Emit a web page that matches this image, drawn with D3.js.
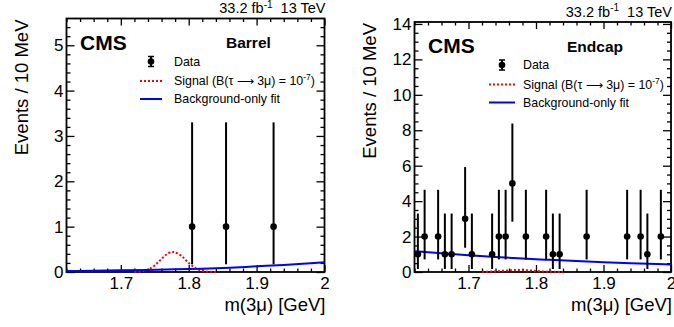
<!DOCTYPE html>
<html>
<head>
<meta charset="utf-8">
<script src="https://cdn.jsdelivr.net/npm/d3@7"></script>
<style>
  html, body { margin: 0; padding: 0; background: #fff; }
  svg { display: block; }
  text { font-family: "Liberation Sans", Arial, Helvetica, sans-serif; white-space: pre; }
</style>
</head>
<body>
<svg id="chart" width="674" height="327"></svg>
<script>
// ---------------- DATA ----------------
const xRange = [1.62, 2.0];
const xMajorTicks = [1.7, 1.8, 1.9, 2.0];
const xMinorTicks = [1.62, 1.64, 1.66, 1.68, 1.72, 1.74, 1.76, 1.78, 1.82, 1.84, 1.86, 1.88, 1.92, 1.94, 1.96, 1.98];

// Barrel
const barrelYMax = 5.59;
const barrelYMajor = [0, 1, 2, 3, 4, 5];
const barrelX = [1.805, 1.855, 1.925];
const barrelN = [1, 1, 1];
const barrelLo = [0.17, 0.17, 0.17];
const barrelHi = [3.30, 3.30, 3.30];
const barrelBkgX = [1.62, 1.66, 1.70, 1.74, 1.78, 1.82, 1.86, 1.90, 1.94, 1.98, 2.00];
const barrelBkgY = [0.022, 0.028, 0.036, 0.046, 0.058, 0.074, 0.095, 0.125, 0.155, 0.195, 0.215];
const barrelSigX = [1.72, 1.73, 1.74, 1.75, 1.76, 1.77, 1.777, 1.78, 1.79, 1.80, 1.81, 1.82, 1.83, 1.84];
const barrelSigY = [0.003, 0.015, 0.055, 0.146, 0.29, 0.415, 0.44, 0.435, 0.345, 0.20, 0.085, 0.026, 0.006, 0.001];

// Endcap
const endcapYMax = 14.11;
const endcapYMajor = [0, 2, 4, 6, 8, 10, 12, 14];
const endcapX = [1.625, 1.635, 1.655, 1.665, 1.675, 1.695, 1.705, 1.735, 1.745, 1.755, 1.765, 1.785, 1.815, 1.825, 1.835, 1.875, 1.935, 1.955, 1.965, 1.985];
const endcapN = [1, 2, 2, 1, 1, 3, 1, 1, 2, 2, 5, 2, 2, 1, 1, 2, 2, 2, 1, 2];
const endcapLo = [0.17, 0.71, 0.71, 0.17, 0.17, 1.37, 0.17, 0.17, 0.71, 0.71, 2.84, 0.71, 0.71, 0.17, 0.17, 0.71, 0.71, 0.71, 0.17, 0.71];
const endcapHi = [3.30, 4.64, 4.64, 3.30, 3.30, 5.92, 3.30, 3.30, 4.64, 4.64, 8.38, 4.64, 4.64, 3.30, 3.30, 4.64, 4.64, 4.64, 3.30, 4.64];
const endcapBkgX = [1.62, 1.66, 1.70, 1.74, 1.78, 1.82, 1.86, 1.90, 1.94, 1.98, 2.00];
const endcapBkgY = [1.18, 1.06, 0.95, 0.85, 0.76, 0.685, 0.615, 0.55, 0.495, 0.445, 0.42];
const endcapSigX = [1.72, 1.73, 1.74, 1.75, 1.76, 1.77, 1.78, 1.79, 1.80, 1.81, 1.82, 1.83, 1.84];
const endcapSigY = [0.005, 0.015, 0.035, 0.065, 0.095, 0.11, 0.11, 0.09, 0.06, 0.035, 0.015, 0.006, 0.002];

// ---------------- DRAW ----------------
const svg = d3.select("#chart");
const FONT = '"Liberation Sans", Arial, Helvetica, sans-serif';

function drawPanel(p) {
  const g = svg.append("g");
  const x = d3.scaleLinear().domain(xRange).range([p.left, p.right]);
  const y = d3.scaleLinear().domain([0, p.yMax]).range([p.bottom, p.top]);
  const fmtX = d => (Math.abs(d - 2) < 1e-9 ? "2" : d.toFixed(1));

  function styleAxis(sel) {
    sel.select(".domain").remove();
    sel.selectAll("line").attr("stroke", "#000").attr("stroke-width", 1.3);
    sel.selectAll("text").attr("fill", "#000").style("font-family", FONT).style("font-size", "17px");
  }

  // bottom: labels + major
  g.append("g").attr("transform", `translate(0,${p.bottom})`)
    .call(d3.axisBottom(x).tickValues(xMajorTicks).tickFormat(fmtX).tickSizeInner(-7).tickSizeOuter(0).tickPadding(5))
    .call(styleAxis);
  g.append("g").attr("transform", `translate(0,${p.bottom})`)
    .call(d3.axisBottom(x).tickValues(xMinorTicks).tickFormat("").tickSizeInner(-3.5).tickSizeOuter(0))
    .call(styleAxis);
  // top
  g.append("g").attr("transform", `translate(0,${p.top})`)
    .call(d3.axisTop(x).tickValues(xMajorTicks).tickFormat("").tickSizeInner(-7).tickSizeOuter(0))
    .call(styleAxis);
  g.append("g").attr("transform", `translate(0,${p.top})`)
    .call(d3.axisTop(x).tickValues(xMinorTicks).tickFormat("").tickSizeInner(-3.5).tickSizeOuter(0))
    .call(styleAxis);

  const yMinor = [];
  for (let i = 0; ; i++) {
    const v = +(i * p.yMinorStep).toFixed(4);
    if (v > p.yMax) break;
    if (!p.yMajor.some(m => Math.abs(m - v) < 1e-6)) yMinor.push(v);
  }
  // left
  g.append("g").attr("transform", `translate(${p.left},0)`)
    .call(d3.axisLeft(y).tickValues(p.yMajor).tickFormat(d3.format("d")).tickSizeInner(-8).tickSizeOuter(0).tickPadding(3))
    .call(styleAxis);
  g.append("g").attr("transform", `translate(${p.left},0)`)
    .call(d3.axisLeft(y).tickValues(yMinor).tickFormat("").tickSizeInner(-4).tickSizeOuter(0))
    .call(styleAxis);
  // right
  g.append("g").attr("transform", `translate(${p.right},0)`)
    .call(d3.axisRight(y).tickValues(p.yMajor).tickFormat("").tickSizeInner(-8).tickSizeOuter(0))
    .call(styleAxis);
  g.append("g").attr("transform", `translate(${p.right},0)`)
    .call(d3.axisRight(y).tickValues(yMinor).tickFormat("").tickSizeInner(-4).tickSizeOuter(0))
    .call(styleAxis);

  // frame
  g.append("rect")
    .attr("x", p.left).attr("y", p.top)
    .attr("width", p.right - p.left).attr("height", p.bottom - p.top)
    .attr("fill", "none").attr("stroke", "#000").attr("stroke-width", 1.8);

  // signal (red dotted)
  const sigLine = d3.line().x(d => x(d[0])).y(d => y(d[1])).curve(d3.curveCatmullRom);
  g.append("path")
    .datum(p.sigX.map((v, i) => [v, p.sigY[i]]))
    .attr("d", sigLine)
    .attr("fill", "none").attr("stroke", "#ff0000").attr("stroke-width", 2)
    .attr("stroke-dasharray", "2,2");

  // background fit (blue)
  const bkgLine = d3.line().x(d => x(d[0])).y(d => y(d[1])).curve(d3.curveMonotoneX);
  g.append("path")
    .datum(p.bkgX.map((v, i) => [v, p.bkgY[i]]))
    .attr("d", bkgLine)
    .attr("fill", "none").attr("stroke", "#0000ff").attr("stroke-width", 2);

  // data error bars + points
  const pts = p.dataX.map((v, i) => ({ x: v, n: p.dataN[i], lo: p.dataLo[i], hi: p.dataHi[i] }));
  g.selectAll(null).data(pts).enter().append("line")
    .attr("x1", d => x(d.x)).attr("x2", d => x(d.x))
    .attr("y1", d => y(d.lo)).attr("y2", d => y(d.hi))
    .attr("stroke", "#000").attr("stroke-width", 2);
  g.selectAll(null).data(pts).enter().append("circle")
    .attr("cx", d => x(d.x)).attr("cy", d => y(d.n)).attr("r", 3.3)
    .attr("fill", "#000");

  // Axis titles
  g.append("text")
    .attr("x", p.right + 1).attr("y", 311)
    .attr("text-anchor", "end")
    .style("font-size", "18.5px")
    .text("m(3μ) [GeV]");
  g.append("text")
    .attr("transform", `translate(${p.ytitleX},${p.top + 1}) rotate(-90)`)
    .attr("text-anchor", "end")
    .style("font-size", "18.5px")
    .text("Events / 10 MeV");

  // lumi label
  const lumi = g.append("text")
    .attr("x", p.right + 1).attr("y", p.top - 5.5)
    .attr("text-anchor", "end")
    .style("font-size", "14.5px");
  lumi.append("tspan").text("33.2 fb");
  lumi.append("tspan").attr("dy", -5.5).style("font-size", "10px").text("-1");
  lumi.append("tspan").attr("dy", 5.5).text("  13 TeV");

  // CMS and region
  g.append("text")
    .attr("x", p.left + 13.5).attr("y", p.top + 31)
    .style("font-size", "21px").style("font-weight", "bold")
    .text("CMS");
  g.append("text")
    .attr("x", p.regionX).attr("y", p.top + 29.5)
    .style("font-size", "15.5px").style("font-weight", "bold")
    .text(p.region);

  // Legend
  const lx0 = p.legX0, lx1 = p.legX1, tx = p.legTextX;
  const ly = [p.top + 43, p.top + 62.5, p.top + 80.5];
  const mx = (lx0 + lx1) / 2;
  g.append("line").attr("x1", mx).attr("x2", mx).attr("y1", ly[0] - 5).attr("y2", ly[0] + 5)
    .attr("stroke", "#000").attr("stroke-width", 2);
  g.append("line").attr("x1", mx - 3).attr("x2", mx + 3).attr("y1", ly[0] - 5).attr("y2", ly[0] - 5)
    .attr("stroke", "#000").attr("stroke-width", 1.5);
  g.append("line").attr("x1", mx - 3).attr("x2", mx + 3).attr("y1", ly[0] + 5).attr("y2", ly[0] + 5)
    .attr("stroke", "#000").attr("stroke-width", 1.5);
  g.append("circle").attr("cx", mx).attr("cy", ly[0]).attr("r", 3.3).attr("fill", "#000");
  g.append("line").attr("x1", lx0).attr("x2", lx1).attr("y1", ly[1]).attr("y2", ly[1])
    .attr("stroke", "#ff0000").attr("stroke-width", 2).attr("stroke-dasharray", "2,2");
  g.append("line").attr("x1", lx0).attr("x2", lx1).attr("y1", ly[2]).attr("y2", ly[2])
    .attr("stroke", "#0000ff").attr("stroke-width", 2);

  const fs = "12.4px";
  g.append("text").attr("x", tx).attr("y", ly[0] + 4.4).style("font-size", fs).text("Data");
  const st = g.append("text").attr("x", tx).attr("y", ly[1] + 4.4).style("font-size", fs);
  st.append("tspan").text("Signal (B(τ ⟶ 3μ) = 10");
  st.append("tspan").attr("dy", -5).style("font-size", "8.5px").text("-7");
  st.append("tspan").attr("dy", 5).text(")");
  g.append("text").attr("x", tx).attr("y", ly[2] + 4.4).style("font-size", fs).text("Background-only fit");
}

drawPanel({
  left: 66.5, right: 324.5, top: 18.5, bottom: 272,
  yMax: barrelYMax, yMajor: barrelYMajor, yMinorStep: 0.2,
  dataX: barrelX, dataN: barrelN, dataLo: barrelLo, dataHi: barrelHi,
  bkgX: barrelBkgX, bkgY: barrelBkgY, sigX: barrelSigX, sigY: barrelSigY,
  ytitleX: 27.5, region: "Barrel", regionX: 226,
  legX0: 140, legX1: 162, legTextX: 174
});
drawPanel({
  left: 414.5, right: 671, top: 22, bottom: 272,
  yMax: endcapYMax, yMajor: endcapYMajor, yMinorStep: 0.5,
  dataX: endcapX, dataN: endcapN, dataLo: endcapLo, dataHi: endcapHi,
  bkgX: endcapBkgX, bkgY: endcapBkgY, sigX: endcapSigX, sigY: endcapSigY,
  ytitleX: 375.5, region: "Endcap", regionX: 567,
  legX0: 489, legX1: 515, legTextX: 523
});
</script>
</body>
</html>
